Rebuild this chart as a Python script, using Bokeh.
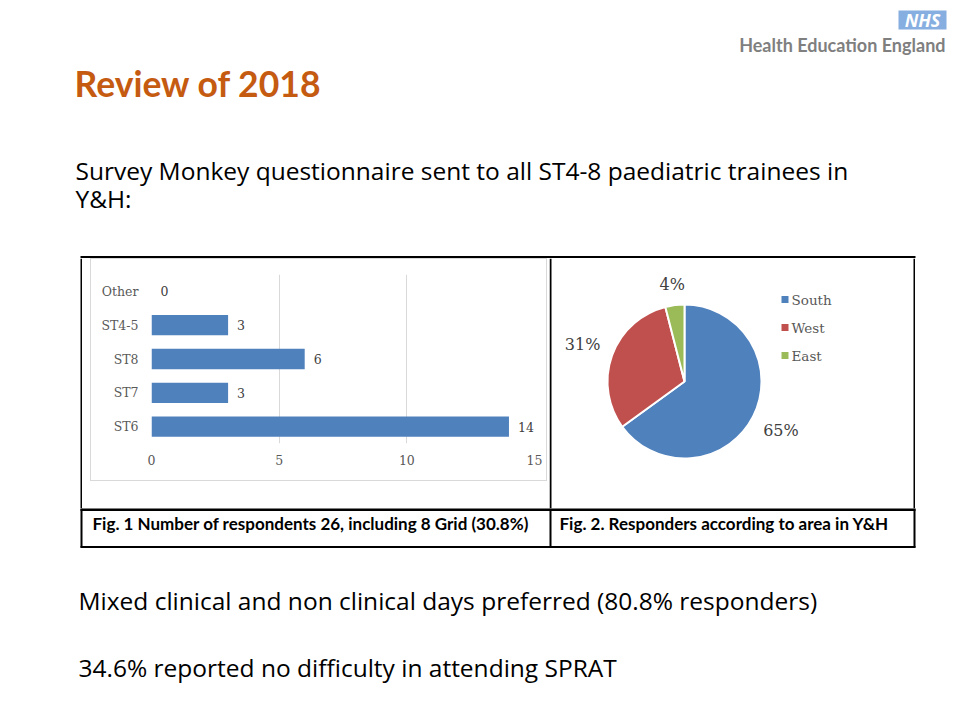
import math
from bokeh.plotting import figure
from bokeh.models import Range1d, FactorRange, FixedTicker, ColumnDataSource, LabelSet, Spacer
from bokeh.layouts import row, column
from bokeh.core.properties import value
from bokeh.embed import file_html
from bokeh.resources import INLINE

# ---------------- data ----------------
title_text = "Review of 2018"
intro_lines = ["Survey Monkey questionnaire sent to all ST4-8 paediatric trainees in", "Y&H:"]
grade_categories = ["Other", "ST4-5", "ST8", "ST7", "ST6"]      # top to bottom
grade_counts = [0, 3, 6, 3, 14]
count_ticks = [0, 5, 10, 15]
area_names = ["South", "West", "East"]
area_percents = [65, 31, 4]
area_colors = ["#4F81BD", "#C0504D", "#9BBB59"]
bar_color = "#4F81BD"
caption_texts = ["Fig. 1 Number of respondents 26, including 8 Grid (30.8%)",
                 "Fig. 2. Responders according to area in Y&H"]
finding_lines = ["Mixed clinical and non clinical days preferred (80.8% responders)",
                 "34.6% reported no difficulty in attending SPRAT"]
logo_mark = "NHS"
logo_name = "Health Education England"

TITLE_FONT = "Lato"
BODY_FONT = "Open Sans"
CHART_FONT = "DejaVu Serif"
W = 952


def canvas(w, h, x0, x1, y0, y1):
    f = figure(width=w, height=h, x_range=Range1d(x0, x1), y_range=Range1d(y0, y1),
               toolbar_location=None, output_backend="svg", min_border=0,
               x_axis_location=None, y_axis_location=None,
               outline_line_color=None, background_fill_color=None, border_fill_color=None)
    f.grid.visible = False
    f.title.visible = False
    return f


# ---------------- header (page y 0..258) ----------------
header = canvas(W, 258, 0, W, 258, 0)
header.quad(left=[898], right=[946], top=[10], bottom=[29], fill_color="#86AEE0", line_color=None)
header.text(x=[922], y=[19.5], text=[logo_mark], text_font=value("Open Sans"),
            text_font_style="bold italic", text_font_size="18px", text_color="white",
            text_align="center", text_baseline="middle")
header.text(x=[945], y=[44], text=[logo_name], text_font=value(TITLE_FONT),
            text_font_style="bold", text_font_size="18px", text_color="#7F7F7F",
            text_align="right", text_baseline="middle")
header.text(x=[74], y=[83], text=[title_text], text_font=value(TITLE_FONT),
            text_font_style="bold", text_font_size="35.5px", text_color="#C55A11",
            text_align="left", text_baseline="middle")
header.text(x=[75, 75], y=[170, 198], text=intro_lines, text_font=value(BODY_FONT),
            text_font_size="24.5px", text_color="#000000",
            text_align="left", text_baseline="middle")
header.segment(x0=[80], y0=[256.5], x1=[915], y1=[256.5], line_color="black", line_width=2)

# ---------------- left strip (x 0..82) ----------------
left_strip = canvas(82, 250, 0, 82, 508, 258)
left_strip.segment(x0=[81], y0=[258], x1=[81], y1=[508], line_color="black", line_width=2)

# ---------------- bar chart (x 90..547, y 258..481) ----------------
bar_src = ColumnDataSource(dict(cat=grade_categories, count=grade_counts,
                                label=[str(v) for v in grade_counts]))
bar = figure(width=457, height=223,
             y_range=FactorRange(factors=list(reversed(grade_categories))),
             x_range=Range1d(count_ticks[0], count_ticks[-1]),
             toolbar_location=None, output_backend="svg",
             min_border_left=61, min_border_right=13, min_border_top=16, min_border_bottom=38,
             outline_line_color=None, background_fill_color=None, border_fill_color=None,
             styles={"outline": "1px solid #D9D9D9", "outline-offset": "-1px"})
bar.title.visible = False
bar.hbar(y="cat", left=0, right="count", height=0.6, source=bar_src,
         fill_color=bar_color, line_color=None)
bar.add_layout(LabelSet(x="count", y="cat", text="label", source=bar_src, x_offset=9,
                        text_baseline="middle", text_align="left",
                        text_font=value(CHART_FONT), text_font_size="12.5px",
                        text_color="#404040"))
bar.xaxis.ticker = FixedTicker(ticks=count_ticks)
for ax in (bar.xaxis, bar.yaxis):
    ax.axis_line_color = None
    ax.major_tick_line_color = None
    ax.minor_tick_line_color = None
    ax.major_tick_in = 0
    ax.major_tick_out = 0
    ax.major_label_text_font = CHART_FONT
    ax.major_label_text_font_size = "12.5px"
    ax.major_label_text_color = "#595959"
bar.xaxis.major_label_standoff = 11
bar.yaxis.major_label_standoff = 13
bar.xgrid.grid_line_color = "#D9D9D9"
bar.ygrid.grid_line_color = None

bar_col = column(bar, Spacer(width=457, height=27))

# ---------------- pie chart (x 549..915) ----------------
pie = canvas(366, 250, 549, 915, -508, -258)
cx, cy, R = 684, -381, 77
total = sum(area_percents)
starts, ends, acc = [], [], 0
for v in area_percents:
    starts.append(math.pi / 2 - 2 * math.pi * acc / total)
    acc += v
    ends.append(math.pi / 2 - 2 * math.pi * acc / total)
pie_src = ColumnDataSource(dict(name=area_names, pct=area_percents, color=area_colors,
                                start=starts, end=ends))
pie.wedge(x=cx, y=cy, radius=R, start_angle="start", end_angle="end", direction="clock",
          fill_color="color", line_color="white", line_width=2, source=pie_src)

pct_labels = [f"{v}%" for v in area_percents]
lx, ly = [], []
for s, e, t in zip(starts, ends, pct_labels):
    m = (s + e) / 2
    c, sn = math.cos(m), math.sin(m)
    r = R + 12 + 6 * len(t) * abs(c) + 7 * abs(sn)
    lx.append(cx + r * c)
    ly.append(cy + r * sn)
pie.text(x=lx, y=ly, text=pct_labels, text_align="center", text_baseline="middle",
         text_font=value(CHART_FONT), text_font_size="16px", text_color="#404040")

leg_y = [-(299 + 28 * i) for i in range(len(area_names))]
pie.scatter(x=[784.5] * len(area_names), y=leg_y, marker="square", size=7,
            fill_color=area_colors, line_color=None)
pie.text(x=[791] * len(area_names), y=leg_y, text=area_names, text_baseline="middle",
         text_font=value(CHART_FONT), text_font_size="13.5px", text_color="#595959")
pie.segment(x0=[550, 914], y0=[-258, -258], x1=[550, 914], y1=[-508, -508],
            line_color="black", line_width=2)

middle = row(left_strip, Spacer(width=8, height=250), bar_col, Spacer(width=2, height=250), pie)

# ---------------- captions (page y 508..549) ----------------
cap = canvas(W, 41, 0, W, 549, 508)
cap.segment(x0=[80, 80], y0=[509, 546.5], x1=[915, 915], y1=[509, 546.5],
            line_color="black", line_width=[3, 2])
cap.segment(x0=[81, 550, 914], y0=[508, 508, 508], x1=[81, 550, 914], y1=[547, 547, 547],
            line_color="black", line_width=2)
cap.text(x=[92, 559], y=[522.5, 522.5], text=caption_texts, text_font=value(TITLE_FONT),
         text_font_style="bold", text_font_size="17px", text_color="#000000",
         text_baseline="middle")

# ---------------- footer (page y 549..712) ----------------
footer = canvas(W, 163, 0, W, 712, 549)
footer.text(x=[78, 78], y=[600, 667], text=finding_lines, text_font=value(BODY_FONT),
            text_font_size="24.5px", text_color="#000000", text_baseline="middle")

layout = column(header, middle, cap, footer)
open("out.html", "w").write(file_html(layout, INLINE))
